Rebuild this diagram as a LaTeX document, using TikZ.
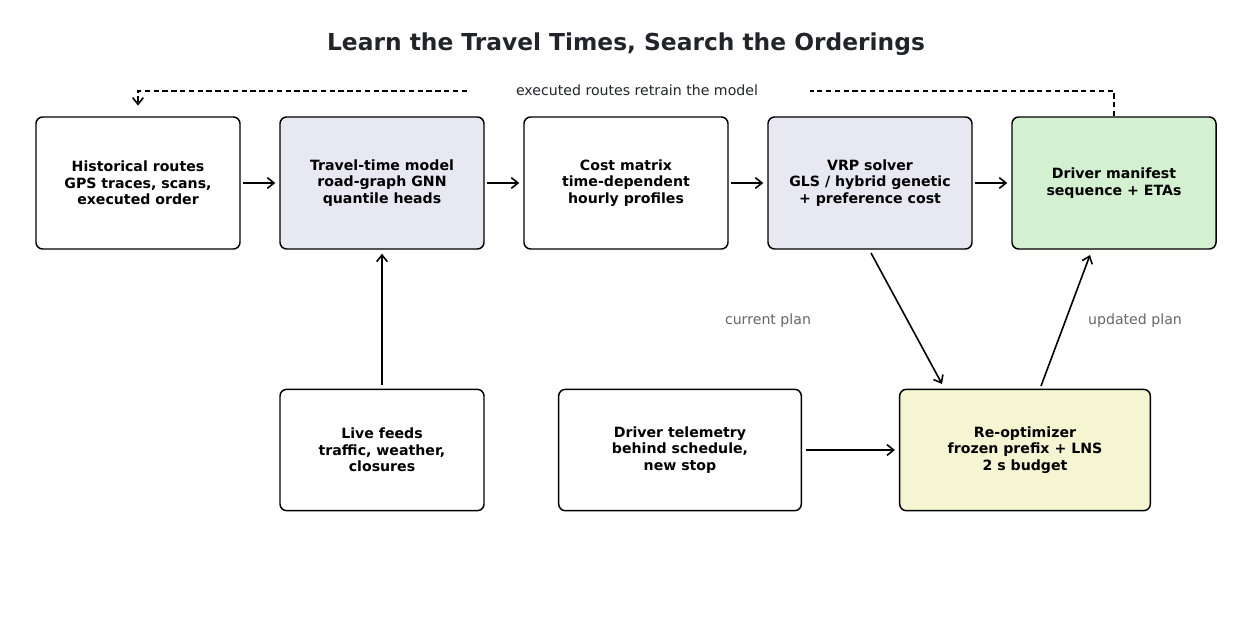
\documentclass[tikz,border=0pt]{standalone}
\usepackage{fontspec}
\setmainfont{DejaVu Sans}
\usetikzlibrary{arrows.meta}
\begin{document}
\begin{tikzpicture}[x=0.75pt,y=-0.75pt,
 box/.style={draw=black,line width=1.1pt,rounded corners=5pt,align=center,font=\bfseries\fontsize{10.6}{12.5}\selectfont,inner sep=0pt},
 arr/.style={-{Straight Barb[length=5pt,width=8pt]},line width=1.2pt},
 dsh/.style={dash pattern=on 4pt off 2.6pt,line width=1.1pt},
 lab/.style={font=\fontsize{10.6}{12.5}\selectfont,text=black!60}]
\useasboundingbox (0,0) rectangle (1252,636);
\node[font=\bfseries\fontsize{17.5}{20}\selectfont,text={rgb,255:red,33;green,37;blue,41}] (title) at (626,44) {Learn the Travel Times, Search the Orderings};
\node[box,minimum width=153pt,minimum height=99pt] (hist) at (138,183) {Historical routes\\GPS traces, scans,\\executed order};
\node[box,minimum width=153pt,minimum height=99pt,fill={rgb,255:red,232;green,232;blue,242}] (model) at (382,183) {Travel-time model\\road-graph GNN\\quantile heads};
\node[box,minimum width=153pt,minimum height=99pt] (cost) at (626,183) {Cost matrix\\time-dependent\\hourly profiles};
\node[box,minimum width=153pt,minimum height=99pt,fill={rgb,255:red,232;green,232;blue,242}] (vrp) at (870,183) {VRP solver\\GLS / hybrid genetic\\+ preference cost};
\node[box,minimum width=153pt,minimum height=99pt,fill={rgb,255:red,211;green,240;blue,208}] (man) at (1114,183) {Driver manifest\\sequence + ETAs};
\node[box,minimum width=153pt,minimum height=91pt] (live) at (382,450) {Live feeds\\traffic, weather,\\closures};
\node[box,minimum width=182pt,minimum height=91pt] (tele) at (680,450) {Driver telemetry\\behind schedule,\\new stop};
\node[box,minimum width=188pt,minimum height=91pt,fill={rgb,255:red,245;green,245;blue,210}] (reopt) at (1025,450) {Re-optimizer\\frozen prefix + LNS\\2 s budget};
\draw[arr] ([xshift=2pt]hist.east) -- ([xshift=-3pt]model.west);
\draw[arr] ([xshift=2pt]model.east) -- ([xshift=-3pt]cost.west);
\draw[arr] ([xshift=2pt]cost.east) -- ([xshift=-3pt]vrp.west);
\draw[arr] ([xshift=2pt]vrp.east) -- ([xshift=-3pt]man.west);
\draw[arr] ([yshift=3pt]live.north) -- ([yshift=-3pt]model.south);
\draw[arr] ([xshift=3pt]tele.east) -- ([xshift=-3pt]reopt.west);
\coordinate (a1) at (871,253); \coordinate (a2) at (942,384);
\draw[arr] (a1) -- (a2);
\coordinate (b1) at (1041,386); \coordinate (b2) at (1090,255);
\draw[arr] (b1) -- (b2);
\node[font=\fontsize{10.6}{12.5}\selectfont,text={rgb,255:red,33;green,37;blue,41}] (fb) at (637,90) {executed routes retrain the model};
\coordinate (c1) at (1114,91);
\draw[dsh] (man.north) -- (c1) -- (810,91);
\draw[dsh,arr] (467,91) -- (138,91) -- ([yshift=8pt]hist.north);
\node[lab] (cp) at (768,321) {current plan};
\node[lab] (up) at (1135,321) {updated plan};
\end{tikzpicture}
\end{document}
